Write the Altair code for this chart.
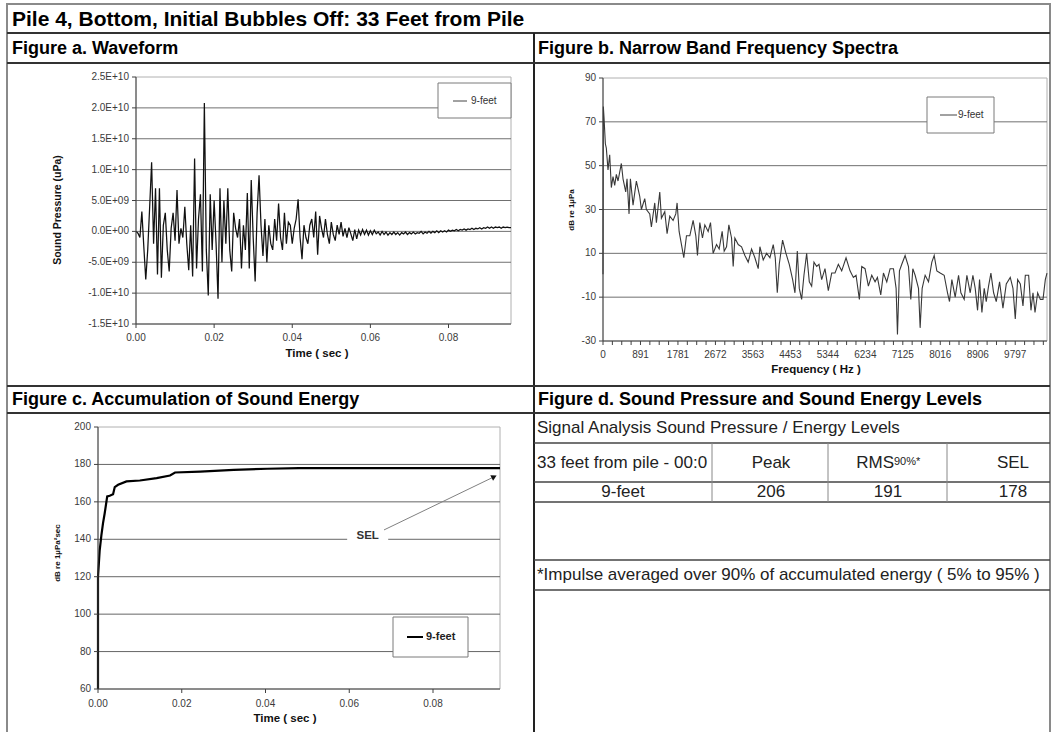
import altair as alt
import pandas as pd

FONT = "Liberation Sans"
W, H = 1053, 732
AX = "#404040"

# ---------------- data ----------------
# Figure a: waveform, sound pressure in units of 1E+09 uPa, one value every 0.5 ms
wave_step = 0.0005
wave_values = [
    0.0, -0.3, -1.0, 3.2, -2.5, -7.8, -3.0, 4.0, 11.2, -2.0,
    7.0, -7.0, 7.0, -7.5, 1.0, 3.0, -3.0, -6.5, 0.5, 3.0,
    -1.5, 6.7, -2.0, 0.5, -1.0, 4.0, -2.0, -6.3, 1.0, -7.3,
    11.8, -6.0, 2.0, 6.0, -6.5, 20.8, -3.0, -10.4, 6.0, -3.0,
    5.0, -2.0, -10.9, 7.0, -5.0, 5.0, -2.0, 7.0, -3.0, -6.5,
    3.0, 0.5, -1.0, 2.0, -6.0, 1.0, -3.0, 6.2, -6.0, 8.3,
    -1.0, -8.1, 3.0, 9.1, 1.0, -4.0, 2.0, -5.0, 1.0, -2.0,
    -3.0, 2.0, -1.5, 4.5, -1.0, -3.0, 3.0, -2.0, 1.5, 1.0,
    -2.0, 0.5, 2.0, 5.2, -1.0, -4.5, 1.0, -1.0, -2.0, 1.0,
    2.0, -1.0, 3.2, -3.8, 2.5, 0.5, -1.0, 2.0, -0.5, -2.0,
    1.5, -0.5, -1.5, 1.0, -0.5, 1.5, -0.8, 0.5, -1.0, 0.6,
    -0.4, -1.5, 0.3, -1.2, 0.2, -0.6, 0.3, -0.5, 0.2, -0.6,
    0.1, -0.5, 0.2, -0.4, -0.1, -0.6, 0.0, -0.5, -0.1, -0.6,
    -0.2, -0.5, -0.1, -0.5, -0.2, -0.6, -0.2, -0.4, -0.1, -0.5,
    -0.2, -0.4, -0.1, -0.4, -0.2, -0.3, 0.0, -0.4, -0.1, -0.3,
    0.0, -0.3, 0.0, -0.2, 0.1, -0.2, 0.1, -0.1, 0.1, -0.1,
    0.2, 0.0, 0.2, 0.1, 0.3, 0.1, 0.3, 0.2, 0.4, 0.2,
    0.4, 0.3, 0.5, 0.3, 0.5, 0.4, 0.6, 0.4, 0.6, 0.5,
    0.7, 0.5, 0.7, 0.5, 0.7, 0.6, 0.7, 0.5, 0.7, 0.6,
    0.7, 0.6, 0.6,
]
wave_time = [round(i * wave_step, 4) for i in range(len(wave_values))]
wave_ticks = [-15, -10, -5, 0, 5, 10, 15, 20, 25]
wave_tick_labels = ["-1.5E+10", "-1.0E+10", "-5.0E+09", "0.0E+00", "5.0E+09",
                    "1.0E+10", "1.5E+10", "2.0E+10", "2.5E+10"]
wave_grid = [-10, -5, 0, 5, 10, 15, 20]
time_ticks = [0.0, 0.02, 0.04, 0.06, 0.08]
time_tick_labels = ["0.00", "0.02", "0.04", "0.06", "0.08"]

# Figure b: narrow band spectrum (dB re 1 uPa)
spec_freq = [
    0, 8, 24, 56, 79, 119, 159, 198, 238, 278,
    317, 357, 436, 476, 540, 571, 619, 651, 714, 793,
    873, 912, 992, 1031, 1111, 1150, 1230, 1269, 1349, 1388,
    1468, 1523, 1587, 1666, 1730, 1761, 1809, 1865, 1920, 1984,
    2063, 2142, 2206, 2245, 2301, 2364, 2420, 2499, 2555, 2618,
    2698, 2761, 2832, 2880, 2936, 2991, 3055, 3094, 3134, 3213,
    3293, 3372, 3451, 3531, 3610, 3689, 3729, 3808, 3888, 3967,
    4046, 4094, 4142, 4189, 4268, 4348, 4427, 4507, 4562, 4618,
    4665, 4721, 4776, 4840, 4903, 4959, 5014, 5078, 5133, 5197,
    5276, 5355, 5435, 5514, 5593, 5673, 5776, 5871, 5950, 6014,
    6093, 6149, 6228, 6307, 6387, 6466, 6522, 6601, 6665, 6744,
    6823, 6903, 6966, 6998, 7045, 7101, 7180, 7260, 7315, 7363,
    7418, 7498, 7537, 7585, 7656, 7736, 7815, 7871, 7934, 8013,
    8108, 8188, 8235, 8291, 8370, 8450, 8505, 8584, 8648, 8727,
    8791, 8846, 8902, 8949, 9005, 9060, 9108, 9163, 9219, 9283,
    9346, 9425, 9505, 9584, 9679, 9743, 9798, 9854, 9918, 9981,
    10037, 10116, 10171, 10219, 10267, 10330, 10394, 10457, 10512, 10552,
]
spec_db = [
    0.5, 77, 72, 60, 58, 48, 55, 40, 45, 41,
    46, 43, 51, 44, 38, 44, 28, 44, 32, 43,
    36, 30, 35, 30, 28, 22, 33, 24, 38, 26,
    29, 19, 27, 25, 28, 33, 20, 14, 8, 18,
    18, 25, 18, 9, 24, 17, 23, 20, 24, 10,
    14, 12, 20, 11, 13, 23, 17, 4, 17, 14,
    13, 9, 6, 12, 8, 3, 13, 7, 10, 8,
    14, 8, -8, 5, 16, 10, 5, -2, -8, 11,
    -6, -11, 0, 10, -3, -5, 6, 4, 5, -2,
    3, -7, 1, 1, 5, 2, 8, 2, -1, 0,
    -11, 4, 3, -5, 0, -3, -1, -9, 1, -3,
    3, 3, -6, -27, 2, 5, 9, 4, -11, 3,
    0, -6, -24, -6, 0, -3, 6, 9, 2, 1,
    0, -8, -12, -2, -10, 0, -8, -11, 0, -8,
    0, -6, -16, -2, -17, -6, -12, -5, 1, -8,
    -12, -3, -15, -4, -1, -6, -20, -2, -4, -14,
    0, 0, -16, -8, -17, -8, -11, -11, -2, 1,
]
freq_label_step = 890.625
freq_tick_labels = ["0", "891", "1781", "2672", "3563", "4453", "5344",
                    "6234", "7125", "8016", "8906", "9797"]
freq_label_pos = [k * freq_label_step for k in range(len(freq_tick_labels))]
freq_minor_ticks = [k * freq_label_step / 4 for k in range(48)]
spec_ticks = [-30, -10, 10, 30, 50, 70, 90]
spec_tick_labels = ["-30", "-10", "10", "30", "50", "70", "90"]
spec_grid = [-10, 10, 30, 50, 70]

# Figure c: accumulation of sound energy (dB re 1 uPa^2 sec)
accum_time = [0.0, 0.0, 0.0002, 0.0004, 0.0008, 0.0012, 0.0016, 0.0022, 0.0028,
              0.0036, 0.0040, 0.0048, 0.0068, 0.0100, 0.0140, 0.0172, 0.0184,
              0.0244, 0.0324, 0.0404, 0.0480, 0.0960]
accum_db = [60, 120, 127, 134, 142, 148.6, 153.9, 162.9, 163.3,
            164.1, 167.9, 169.1, 170.9, 171.4, 172.7, 174.1, 175.7,
            176.2, 177.1, 177.7, 178.0, 178.0]
accum_ticks = [60, 80, 100, 120, 140, 160, 180, 200]
accum_tick_labels = ["60", "80", "100", "120", "140", "160", "180", "200"]
accum_grid = [80, 100, 120, 140, 160, 180]
sel_label = {"t": 0.0644, "db": 141.6}
sel_arrow = {"t": 0.0683, "db": 145.0, "t2": 0.0946, "db2": 173.4}

# Figure d: table
table_header = ["33 feet from pile - 00:0", "Peak", "RMS", "SEL"]
table_row = ["9-feet", "206", "191", "178"]

# ---------------- helpers ----------------
one = pd.DataFrame({"k": [0]})


def hline(y, x1, x2, color="#333333", width=2.0):
    return alt.Chart(one).mark_rule(color=color, strokeWidth=width).encode(
        x=alt.value(x1), x2=alt.value(x2), y=alt.value(y))


def vline(x, y1, y2, color="#333333", width=2.0):
    return alt.Chart(one).mark_rule(color=color, strokeWidth=width).encode(
        x=alt.value(x), y=alt.value(y1), y2=alt.value(y2))


def txt(s, x, y, size, bold=False, align="left", color="#000000", angle=0):
    kw = dict(text=s, align=align, baseline="middle", fontSize=size, font=FONT,
              color=color, fontWeight="bold" if bold else "normal")
    if angle:
        kw["angle"] = angle
    return alt.Chart(one).mark_text(**kw).encode(x=alt.value(x), y=alt.value(y))


def box(x1, y1, x2, y2, color="#7a7a7a"):
    return alt.Chart(one).mark_rect(fill="white", stroke=color, strokeWidth=1).encode(
        x=alt.value(x1), x2=alt.value(x2), y=alt.value(y1), y2=alt.value(y2))


def border(xs, ys, x0, x1, y0, y1):
    return alt.Chart(one).mark_rect(fillOpacity=0, stroke="#b0b0b0", strokeWidth=1).encode(
        x=alt.X(datum=x0, scale=xs, axis=None), x2=alt.X2(datum=x1),
        y=alt.Y(datum=y0, scale=ys, axis=None), y2=alt.Y2(datum=y1))


def gridrules(vals, xs, ys, x0, x1, color="#707070"):
    return alt.Chart(pd.DataFrame({"g": vals})).mark_rule(color=color, strokeWidth=1).encode(
        y=alt.Y("g:Q", scale=ys, axis=None),
        x=alt.X(datum=x0, scale=xs, axis=None), x2=alt.X2(datum=x1))


def yaxis(vals, labs, xs, ys, axis_px, x0, y0, y1, label_gap=7):
    df = pd.DataFrame({"v": vals, "lab": labs})
    ticks = alt.Chart(df).mark_rule(color=AX, strokeWidth=1).encode(
        y=alt.Y("v:Q", scale=ys, axis=None), x=alt.value(axis_px - 4), x2=alt.value(axis_px))
    labels = alt.Chart(df).mark_text(align="right", baseline="middle", font=FONT,
                                     fontSize=10, color="#3a3a3a").encode(
        y=alt.Y("v:Q", scale=ys, axis=None), x=alt.value(axis_px - label_gap), text="lab:N")
    dom = alt.Chart(one).mark_rule(color=AX, strokeWidth=1).encode(
        x=alt.X(datum=x0, scale=xs, axis=None),
        y=alt.Y(datum=y0, scale=ys, axis=None), y2=alt.Y2(datum=y1))
    return [dom, ticks, labels]


def xaxis(tick_vals, label_vals, labs, xs, ys, axis_px, label_px, x0, x1, y0):
    tdf = pd.DataFrame({"v": tick_vals})
    ldf = pd.DataFrame({"v": label_vals, "lab": labs})
    ticks = alt.Chart(tdf).mark_rule(color=AX, strokeWidth=1).encode(
        x=alt.X("v:Q", scale=xs, axis=None), y=alt.value(axis_px), y2=alt.value(axis_px + 4))
    labels = alt.Chart(ldf).mark_text(align="center", baseline="middle", font=FONT,
                                      fontSize=10, color="#3a3a3a").encode(
        x=alt.X("v:Q", scale=xs, axis=None), y=alt.value(label_px), text="lab:N")
    dom = alt.Chart(one).mark_rule(color=AX, strokeWidth=1).encode(
        y=alt.Y(datum=y0, scale=ys, axis=None),
        x=alt.X(datum=x0, scale=xs, axis=None), x2=alt.X2(datum=x1))
    return [dom, ticks, labels]


# ---------------- panel a ----------------
xa = alt.Scale(domain=[0, 0.096], range=[136, 511], nice=False, zero=False)
ya = alt.Scale(domain=[-15, 25], range=[324, 77], nice=False, zero=False)
wave_df = pd.DataFrame({"t": wave_time, "p": wave_values})
line_a = alt.Chart(wave_df).mark_line(color="#111111", strokeWidth=1.25).encode(
    x=alt.X("t:Q", scale=xa, axis=None),
    y=alt.Y("p:Q", scale=ya, axis=None),
)
panel_a = alt.layer(
    border(xa, ya, 0, 0.096, -15, 25),
    gridrules(wave_grid, xa, ya, 0, 0.096),
    line_a,
    *yaxis(wave_ticks, wave_tick_labels, xa, ya, 136, 0, -15, 25),
    *xaxis(time_ticks, time_ticks, time_tick_labels, xa, ya, 324, 338, 0, 0.096, -15),
    txt("Time ( sec )", 317, 354, 11.5, bold=True, align="center", color="#111111"),
    txt("Sound Pressure (uPa)", 58, 210, 10.5, bold=True, align="center", color="#111111", angle=270),
    box(438, 83, 511, 118),
    hline(101, 453, 467, "#444444", 1),
    txt("9-feet", 471, 101, 10, color="#333333"),
)

# ---------------- panel b ----------------
xb = alt.Scale(domain=[0, 10552], range=[603, 1047], nice=False, zero=False)
yb = alt.Scale(domain=[-30, 90], range=[341, 78], nice=False, zero=False)
spec_df = pd.DataFrame({"f": spec_freq, "db": spec_db})
line_b = alt.Chart(spec_df).mark_line(color="#383838", strokeWidth=1.1).encode(
    x=alt.X("f:Q", scale=xb, axis=None),
    y=alt.Y("db:Q", scale=yb, axis=None),
)
panel_b = alt.layer(
    border(xb, yb, 0, 10552, -30, 90),
    gridrules(spec_grid, xb, yb, 0, 10552),
    line_b,
    *yaxis(spec_ticks, spec_tick_labels, xb, yb, 603, 0, -30, 90),
    *xaxis(freq_minor_ticks, freq_label_pos, freq_tick_labels, xb, yb, 341, 355, 0, 10552, -30),
    txt("Frequency ( Hz )", 816, 370, 11.5, bold=True, align="center", color="#111111"),
    txt("dB re 1µPa", 572, 210, 8, bold=True, align="center", color="#111111", angle=270),
    box(927, 97, 994, 133),
    hline(115, 940, 957, "#444444", 1),
    txt("9-feet", 958, 115, 10, color="#333333"),
)

# ---------------- panel c ----------------
xc = alt.Scale(domain=[0, 0.096], range=[98, 500], nice=False, zero=False)
yc = alt.Scale(domain=[60, 200], range=[689, 427], nice=False, zero=False)
accum_df = pd.DataFrame({"t": accum_time, "db": accum_db, "i": list(range(len(accum_time)))})
line_c = alt.Chart(accum_df).mark_line(color="#000000", strokeWidth=2.2).encode(
    x=alt.X("t:Q", scale=xc, axis=None),
    y=alt.Y("db:Q", scale=yc, axis=None),
    order=alt.Order("i:Q"),
)
sel_df = pd.DataFrame([sel_label])
arrow_df = pd.DataFrame([sel_arrow])
sel_mask = alt.Chart(one).mark_rect(color="white").encode(
    x=alt.X(datum=0.0595, scale=xc, axis=None), x2=alt.X2(datum=0.0693),
    y=alt.Y(datum=138.2, scale=yc, axis=None), y2=alt.Y2(datum=144.8))
sel_text = alt.Chart(sel_df).mark_text(text="SEL", fontSize=11.5, fontWeight="bold", font=FONT,
                                       color="#333333", baseline="middle").encode(
    x=alt.X("t:Q", scale=xc, axis=None), y=alt.Y("db:Q", scale=yc, axis=None))
sel_line = alt.Chart(arrow_df).mark_rule(color="#808080", strokeWidth=1).encode(
    x=alt.X("t:Q", scale=xc, axis=None), y=alt.Y("db:Q", scale=yc, axis=None),
    x2="t2:Q", y2="db2:Q")
sel_head = alt.Chart(arrow_df).mark_point(shape="triangle-up", filled=True, size=40, angle=64,
                                          color="#111111", opacity=1).encode(
    x=alt.X("t2:Q", scale=xc, axis=None), y=alt.Y("db2:Q", scale=yc, axis=None))
panel_c = alt.layer(
    border(xc, yc, 0, 0.096, 60, 200),
    gridrules(accum_grid, xc, yc, 0, 0.096, color="#666666"),
    sel_mask, sel_text, line_c, sel_line, sel_head,
    *yaxis(accum_ticks, accum_tick_labels, xc, yc, 98, 0, 60, 200),
    *xaxis(time_ticks, time_ticks, time_tick_labels, xc, yc, 689, 704, 0, 0.096, 60),
    txt("Time ( sec )", 285, 719, 11.5, bold=True, align="center", color="#111111"),
    txt("dB re 1µPa²sec", 58, 553, 8, bold=True, align="center", color="#111111", angle=270),
    box(393, 617, 468, 657),
    hline(637, 407, 423, "#000000", 2),
    txt("9-feet", 426, 637, 11, bold=True, color="#222222"),
)

# ---------------- frame, headings and table ----------------
deco = [
    hline(4, 6, 1051, "#8a8a8a", 2),
    vline(7, 4, H, "#8a8a8a", 2),
    vline(1050, 4, H, "#8a8a8a", 2),
    hline(33, 7, 1050, "#333333", 2),
    vline(534, 33, H, "#222222", 2),
    hline(63, 7, 1050, "#333333", 2),
    hline(386, 7, 1050, "#333333", 2),
    hline(413, 7, 1050, "#333333", 2),
    txt("Pile 4, Bottom, Initial Bubbles Off: 33 Feet from Pile", 12, 19.5, 21, bold=True),
    txt("Figure a. Waveform", 12, 49, 18, bold=True),
    txt("Figure b. Narrow Band Frequency Spectra", 538, 49, 18, bold=True),
    txt("Figure c. Accumulation of Sound Energy", 12, 400, 18, bold=True),
    txt("Figure d. Sound Pressure and Sound Energy Levels", 538, 400, 18, bold=True),
    # table
    hline(443, 534, 1050, "#444444", 1.5),
    hline(482, 534, 1050, "#444444", 1.5),
    hline(502, 534, 1050, "#444444", 1.5),
    hline(560, 534, 1050, "#444444", 1.5),
    hline(590, 534, 1050, "#444444", 1.5),
    vline(712, 443, 502, "#888888", 1),
    vline(828, 443, 502, "#888888", 1),
    vline(947, 443, 502, "#888888", 1),
    txt("Signal Analysis Sound Pressure / Energy Levels", 537, 428, 17, color="#222222"),
    txt(table_header[0], 537, 463, 17, color="#222222"),
    txt(table_header[1], 771, 463, 17, align="center", color="#222222"),
    txt(table_header[2], 894, 463, 17, align="right", color="#222222"),
    txt("90%*", 894, 462, 11, align="left", color="#222222"),
    txt(table_header[3], 1013, 463, 17, align="center", color="#222222"),
    txt(table_row[0], 623, 492, 17, align="center", color="#222222"),
    txt(table_row[1], 771, 492, 17, align="center", color="#222222"),
    txt(table_row[2], 888, 492, 17, align="center", color="#222222"),
    txt(table_row[3], 1013, 492, 17, align="center", color="#222222"),
    txt("*Impulse averaged over 90% of accumulated energy ( 5% to 95% )", 537, 575, 17,
        color="#222222"),
]

chart = alt.layer(*deco, panel_a, panel_b, panel_c).resolve_scale(
    x="independent", y="independent").properties(
    width=W, height=H, padding=0, background="white",
    autosize=alt.AutoSizeParams(type="none")).configure_view(strokeWidth=0)

chart.save("out.html", embed_options={"renderer": "svg", "actions": False})
